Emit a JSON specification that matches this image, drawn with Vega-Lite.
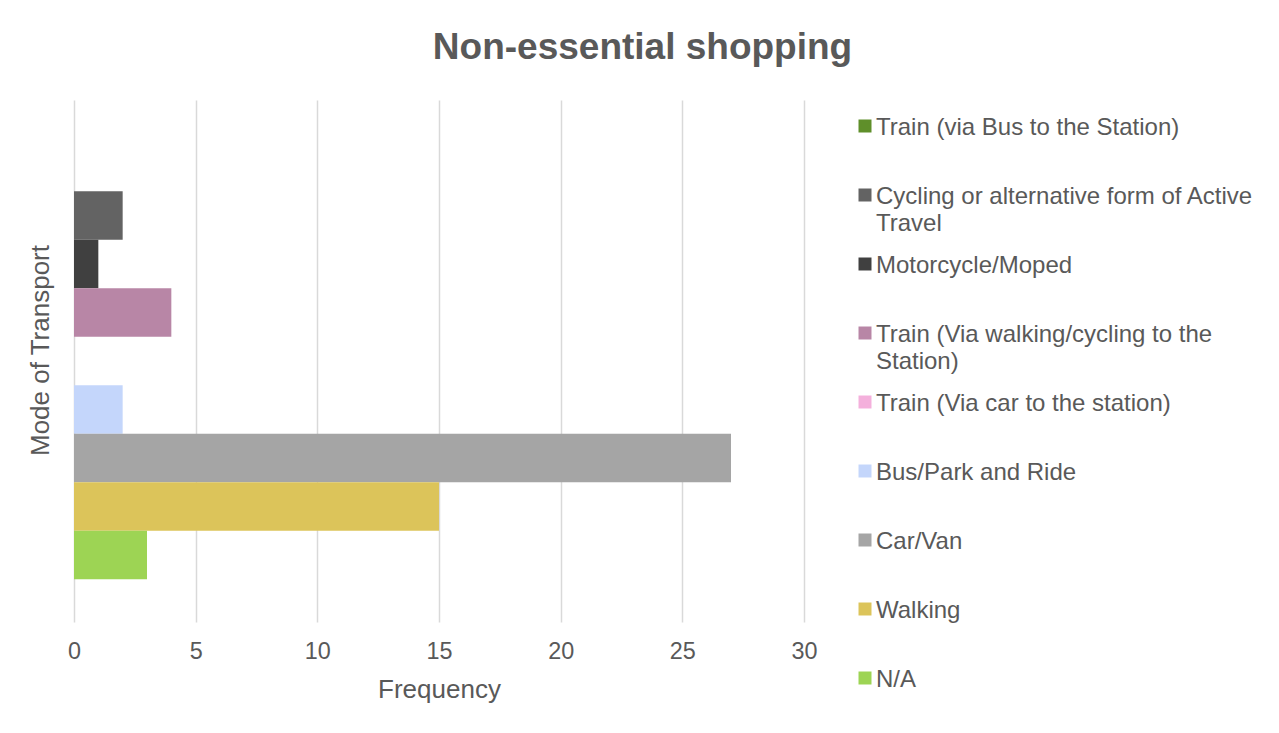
{
  "$schema": "https://vega.github.io/schema/vega-lite/v6.json",
  "width": 730,
  "height": 522,
  "autosize": {"type": "none"},
  "padding": {"left": 74, "top": 100, "right": 475, "bottom": 111},
  "background": "white",
  "title": {
    "text": "Non-essential shopping",
    "fontSize": 37,
    "fontWeight": "bold",
    "font": "Liberation Sans",
    "color": "#595959",
    "anchor": "middle",
    "frame": "group",
    "dx": 203.5,
    "offset": 4,
    "baseline": "alphabetic"
  },
  "data": {
    "values": [
      {"category": "Non-essential shopping", "mode": "Train (via Bus to the Station)", "frequency": 0},
      {"category": "Non-essential shopping", "mode": "Cycling or alternative form of Active Travel", "frequency": 2},
      {"category": "Non-essential shopping", "mode": "Motorcycle/Moped", "frequency": 1},
      {"category": "Non-essential shopping", "mode": "Train (Via walking/cycling to the Station)", "frequency": 4},
      {"category": "Non-essential shopping", "mode": "Train (Via car to the station)", "frequency": 0},
      {"category": "Non-essential shopping", "mode": "Bus/Park and Ride", "frequency": 2},
      {"category": "Non-essential shopping", "mode": "Car/Van", "frequency": 27},
      {"category": "Non-essential shopping", "mode": "Walking", "frequency": 15},
      {"category": "Non-essential shopping", "mode": "N/A", "frequency": 3}
    ]
  },
  "mark": {"type": "bar"},
  "encoding": {
    "y": {
      "field": "category",
      "type": "nominal",
      "scale": {"paddingInner": 0, "paddingOuter": 0.098},
      "axis": {
        "labels": false,
        "ticks": false,
        "domain": false,
        "grid": false,
        "title": "Mode of Transport",
        "titleFontSize": 26,
        "titleColor": "#595959",
        "titleFont": "Liberation Sans",
        "titleFontWeight": "normal",
        "titleX": -26,
        "titleY": 250,
        "titleBaseline": "alphabetic",
        "titleAngle": -90,
        "titleAlign": "center"
      }
    },
    "yOffset": {
      "field": "mode",
      "type": "nominal",
      "sort": [
        "Train (via Bus to the Station)",
        "Cycling or alternative form of Active Travel",
        "Motorcycle/Moped",
        "Train (Via walking/cycling to the Station)",
        "Train (Via car to the station)",
        "Bus/Park and Ride",
        "Car/Van",
        "Walking",
        "N/A"
      ],
      "scale": {"paddingInner": 0, "paddingOuter": 0}
    },
    "x": {
      "field": "frequency",
      "type": "quantitative",
      "scale": {"domain": [0, 30], "nice": false},
      "axis": {
        "values": [0, 5, 10, 15, 20, 25, 30],
        "grid": true,
        "gridColor": "#d9d9d9",
        "gridWidth": 1.5,
        "domain": false,
        "ticks": false,
        "tickSize": 0,
        "labelFlush": false,
        "labelPadding": 18,
        "labelFontSize": 23.4,
        "labelColor": "#595959",
        "labelFont": "Liberation Sans",
        "title": "Frequency",
        "titleFont": "Liberation Sans",
        "titleFontSize": 26,
        "titleColor": "#595959",
        "titleFontWeight": "normal",
        "titleY": 75,
        "titleBaseline": "alphabetic"
      }
    },
    "color": {
      "field": "mode",
      "type": "nominal",
      "scale": {
        "domain": [
          "Train (via Bus to the Station)",
          "Cycling or alternative form of Active Travel",
          "Motorcycle/Moped",
          "Train (Via walking/cycling to the Station)",
          "Train (Via car to the station)",
          "Bus/Park and Ride",
          "Car/Van",
          "Walking",
          "N/A"
        ],
        "range": ["#5f8f2a", "#636363", "#404040", "#b886a6", "#f4b0dc", "#c4d6fb", "#a5a5a5", "#dcc45a", "#9dd454"]
      },
      "legend": {
        "orient": "none",
        "legendX": 779,
        "legendY": 14,
        "direction": "vertical",
        "title": null,
        "padding": 0,
        "symbolType": "square",
        "symbolSize": 169,
        "symbolStrokeWidth": 0,
        "labelFont": "Liberation Sans",
        "labelFontSize": 24,
        "labelColor": "#595959",
        "labelLimit": 600,
        "labelOffset": -1,
        "labelBaseline": "middle",
        "rowPadding": 16,
        "labelExpr": "datum.label == 'Cycling or alternative form of Active Travel' ? ['Cycling or alternative form of Active', 'Travel'] : datum.label == 'Train (Via walking/cycling to the Station)' ? ['Train (Via walking/cycling to the', 'Station)'] : [datum.label, '']",
        "encode": {
          "labels": {
            "update": {
              "lineHeight": {"value": 26.5},
              "dy": {"value": 2.25}
            }
          }
        }
      }
    }
  },
  "config": {"view": {"stroke": null}}
}
